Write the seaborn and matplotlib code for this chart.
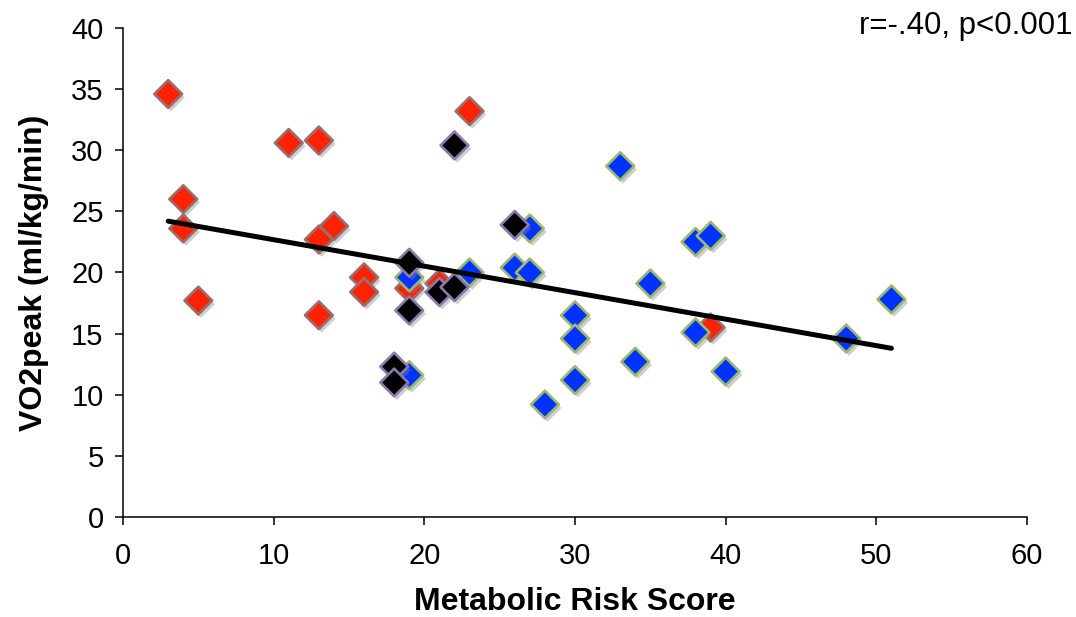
import matplotlib
matplotlib.use("Agg")
import matplotlib.pyplot as plt
import matplotlib.patheffects as pe
import seaborn as sns
import pandas as pd

# Metabolic risk score vs. peak oxygen uptake, by group
red_x = [3, 4, 4, 5, 11, 13, 13, 13, 14, 16, 16, 19, 21, 23, 39]
red_y = [34.6, 26.0, 23.6, 17.7, 30.6, 30.8, 22.7, 16.5, 23.8, 19.6, 18.4, 18.7, 19.1, 33.2, 15.5]

blue_x = [19, 19, 23, 26, 27, 27, 28, 30, 30, 30, 33, 34, 35, 38, 38, 39, 40, 48, 51]
blue_y = [19.6, 11.6, 20.0, 20.4, 20.0, 23.6, 9.2, 16.5, 14.6, 11.2, 28.7, 12.7, 19.1, 22.5, 15.1, 23.0, 11.9, 14.6, 17.8]

black_x = [18, 18, 19, 19, 21, 22, 22, 26]
black_y = [12.3, 11.0, 20.8, 16.9, 18.4, 18.8, 30.4, 23.9]

# Linear trend line endpoints
trend_x = [3, 51]
trend_y = [24.2, 13.8]

x_ticks = [0, 10, 20, 30, 40, 50, 60]
y_ticks = [0, 5, 10, 15, 20, 25, 30, 35, 40]

sns.set_theme(style="white")
plt.rcParams["font.family"] = ["Liberation Sans", "DejaVu Sans"]
plt.rcParams["text.color"] = "black"
plt.rcParams["axes.labelcolor"] = "black"
plt.rcParams["xtick.color"] = "black"
plt.rcParams["ytick.color"] = "black"

fig = plt.figure(figsize=(10.76, 6.17), dpi=100)
ax = fig.add_axes([0.1143, 0.1621, 0.8402, 0.7925])

shadow = [pe.SimplePatchShadow(offset=(2, -2.5), shadow_rgbFace="#888888", alpha=0.4), pe.Normal()]

groups = [
    (red_x, red_y, "#ff2200", "#9a6e6e"),
    (blue_x, blue_y, "#0033ff", "#9cb870"),
    (black_x, black_y, "#000000", "#8a7aaa"),
]
for gx, gy, face, edge in groups:
    df = pd.DataFrame({"score": gx, "vo2": gy})
    sns.scatterplot(data=df, x="score", y="vo2", ax=ax, marker="D", s=200,
                    color=face, edgecolor=edge, linewidth=1.9,
                    path_effects=shadow, zorder=3, legend=False)

sns.lineplot(x=trend_x, y=trend_y, ax=ax, color="black", linewidth=3.6,
             solid_capstyle="round", zorder=4)

ax.set_xlim(0, 60)
ax.set_ylim(0, 40)
ax.set_xticks(x_ticks)
ax.set_yticks(y_ticks)
ax.tick_params(axis="both", which="major", labelsize=21, length=6, width=1.1,
               color="black", labelcolor="black", direction="out",
               left=True, bottom=True, pad=8)
ax.tick_params(axis="x", pad=12)
for side in ["top", "right"]:
    ax.spines[side].set_visible(False)
for side in ["left", "bottom"]:
    ax.spines[side].set_color("black")
    ax.spines[side].set_linewidth(1.1)

ax.set_xlabel("Metabolic Risk Score", fontsize=23, fontweight="bold", labelpad=12)
ax.set_ylabel("VO2peak (ml/kg/min)", fontsize=23, fontweight="bold", labelpad=16)

fig.text(0.9963, 0.958, "r=-.40, p<0.001", ha="right", va="center", fontsize=22.5)

fig.savefig("out.png", dpi=100, facecolor="white")
